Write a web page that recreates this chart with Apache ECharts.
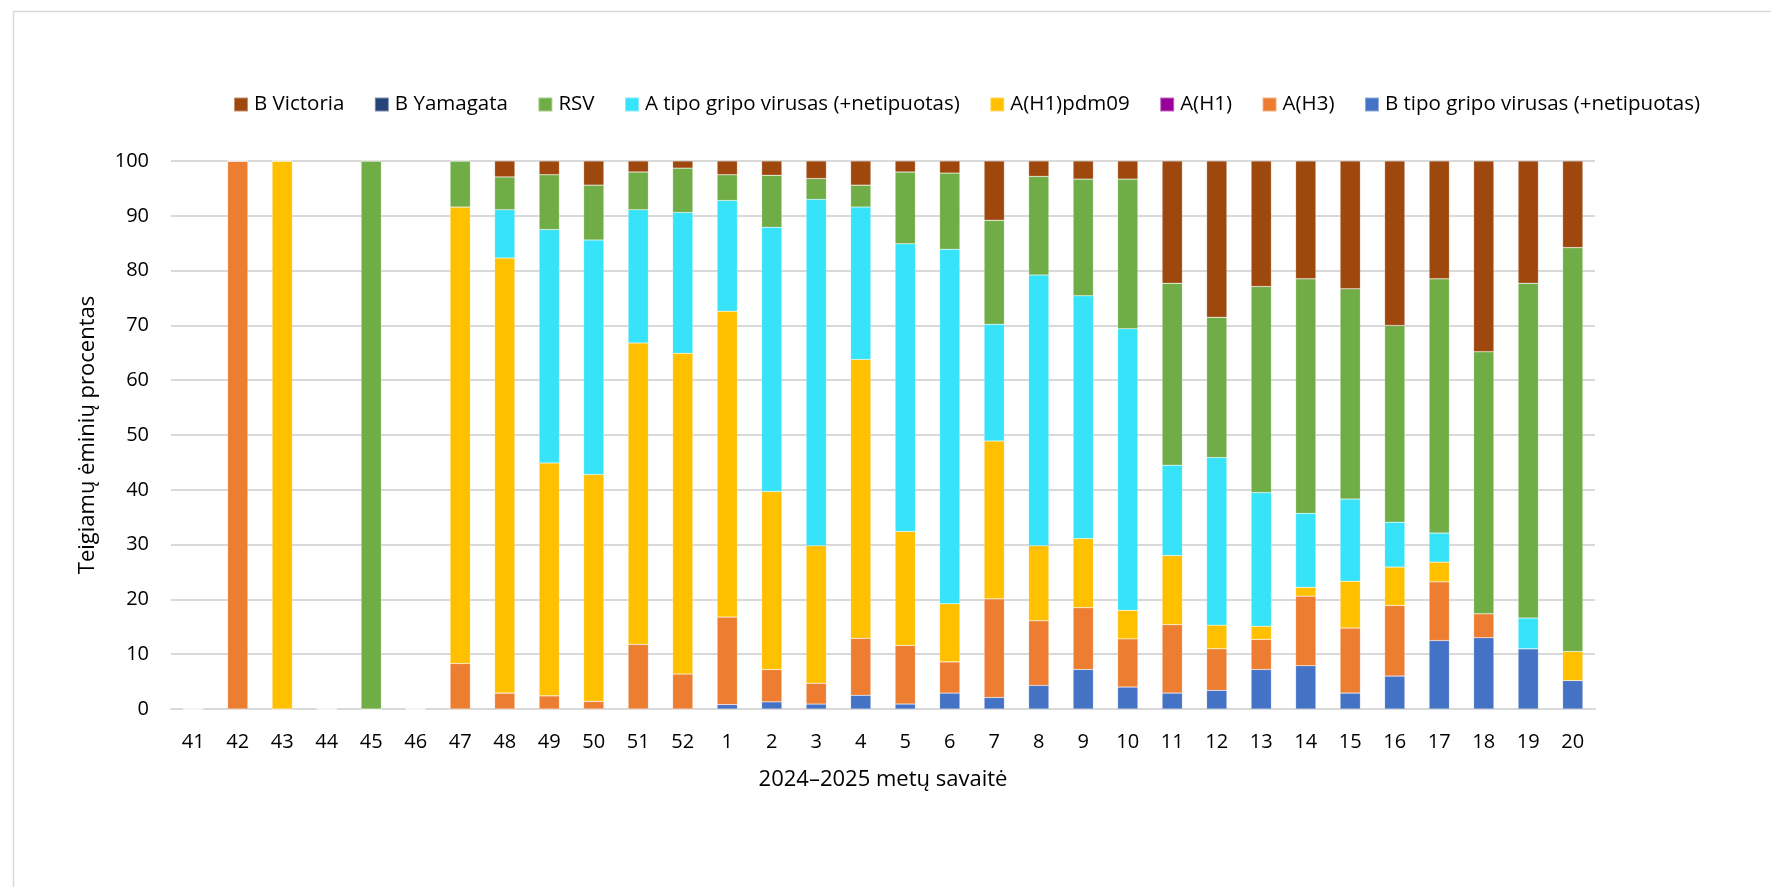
<!DOCTYPE html>
<html>
<head>
<meta charset="utf-8">
<script src="https://cdn.jsdelivr.net/npm/echarts@6/dist/echarts.min.js"></script>
<style>
html,body{margin:0;padding:0;background:#fff;}
#chart{width:1771px;height:887px;}
</style>
</head>
<body>
<div id="chart"></div>
<script>
const weeks = ['41','42','43','44','45','46','47','48','49','50','51','52','1','2','3','4','5','6','7','8','9','10','11','12','13','14','15','16','17','18','19','20'];

const bTipo     = [0,0,0,0,0,0,0,0,0,0,0,0, 0.8,1.3,0.9,2.5,0.9,2.9,2.1,4.3,7.2,4.0,2.9,3.4,7.2,7.9,2.9,6.0,12.5,13.0,11.0,5.2];
const aH3       = [0,100,0,0,0,0,8.3,2.9,2.4,1.4,11.8,6.4, 16.0,5.9,3.8,10.4,10.7,5.7,18.0,11.8,11.3,8.8,12.5,7.6,5.5,12.7,11.9,12.9,10.7,4.4,0,0];
const aH1       = [0,0,0,0,0,0,0,0,0,0,0,0, 0,0,0,0,0,0,0,0,0,0,0,0,0,0,0,0,0,0,0,0];
const aH1pdm09  = [0,0,100,0,0,0,83.3,79.4,42.5,41.4,55.0,58.5, 55.8,32.5,25.1,50.9,20.8,10.6,28.8,13.7,12.6,5.2,12.6,4.3,2.4,1.6,8.5,7.0,3.6,0,0,5.3];
const aTipo     = [0,0,0,0,0,0,0,8.8,42.6,42.8,24.3,25.7, 20.2,48.2,63.2,27.8,52.5,64.7,21.3,49.4,44.3,51.4,16.5,30.6,24.4,13.5,15.0,8.2,5.3,0,5.6,0];
const rsv       = [0,0,0,0,100,0,8.4,6.0,10.0,10.0,6.9,8.1, 4.7,9.5,3.8,4.0,13.1,13.9,19.0,18.0,21.3,27.3,33.2,25.6,37.6,42.8,38.4,35.9,46.4,47.8,61.1,73.7];
const bYamagata = [0,0,0,0,0,0,0,0,0,0,0,0, 0,0,0,0,0,0,0,0,0,0,0,0,0,0,0,0,0,0,0,0];
const bVictoria = [0,0,0,0,0,0,0,2.9,2.5,4.4,2.0,1.3, 2.5,2.6,3.2,4.4,2.0,2.2,10.8,2.8,3.3,3.3,22.3,28.5,22.9,21.5,23.3,30.0,21.5,34.8,22.3,15.8];

const yTicks = [0,10,20,30,40,50,60,70,80,90,100];

const seriesDefs = [
  {name:'B tipo gripo virusas (+netipuotas)', data:bTipo, color:'#4472C4'},
  {name:'A(H3)', data:aH3, color:'#ED7D31'},
  {name:'A(H1)', data:aH1, color:'#990099'},
  {name:'A(H1)pdm09', data:aH1pdm09, color:'#FFC000'},
  {name:'A tipo gripo virusas (+netipuotas)', data:aTipo, color:'#36E3F8'},
  {name:'RSV', data:rsv, color:'#70AD47'},
  {name:'B Yamagata', data:bYamagata, color:'#264478'},
  {name:'B Victoria', data:bVictoria, color:'#9E480E'}
];
const legendOrder = ['B Victoria','B Yamagata','RSV','A tipo gripo virusas (+netipuotas)','A(H1)pdm09','A(H1)','A(H3)','B tipo gripo virusas (+netipuotas)'];

const FONT = 'Open Sans';
const chart = echarts.init(document.getElementById('chart'), null, {renderer:'canvas'});
chart.setOption({
  backgroundColor:'#fff',
  animation:false,
  textStyle:{fontFamily:FONT},
  graphic:[{type:'rect', left:11, top:9, shape:{width:1800, height:900}, style:{fill:'none', stroke:'#d9d9d9', lineWidth:1.5}, silent:true}],
  legend:{
    data:legendOrder,
    left:228, top:89,
    itemWidth:14, itemHeight:14, itemGap:29.5,
    icon:'rect',
    textStyle:{fontFamily:FONT, fontSize:20.5, color:'#000', padding:[0,0,0,1]}
  },
  grid:{left:171, right:176, top:161, bottom:178},
  xAxis:{
    type:'category', data:weeks,
    name:'2024–2025 metų savaitė', nameLocation:'middle', nameGap:60,
    nameTextStyle:{fontFamily:FONT, fontSize:22, color:'#000'},
    axisLine:{show:true, lineStyle:{color:'#d9d9d9', width:2}},
    axisTick:{show:false},
    axisLabel:{fontFamily:FONT, fontSize:20, color:'#000', margin:23}
  },
  yAxis:{
    type:'value', min:0, max:100, interval:10,
    name:'Teigiamų ėminių procentas', nameLocation:'middle', nameGap:72,
    nameTextStyle:{fontFamily:FONT, fontSize:22, color:'#000'},
    axisLine:{show:false}, axisTick:{show:false},
    axisLabel:{fontFamily:FONT, fontSize:20, color:'#000', margin:22,
      formatter:v=> yTicks.includes(v) ? String(v) : ''},
    splitLine:{lineStyle:{color:'#d9d9d9', width:2}}
  },
  series: seriesDefs.map(s=>({
    name:s.name, type:'bar', stack:'total', data:s.data, barWidth:'45.5%',
    itemStyle:{color:s.color, borderColor:'rgba(255,255,255,0.4)', borderWidth:0.5},
    emphasis:{disabled:true}
  })),
  color: seriesDefs.map(s=>s.color)
});
</script>
</body>
</html>
